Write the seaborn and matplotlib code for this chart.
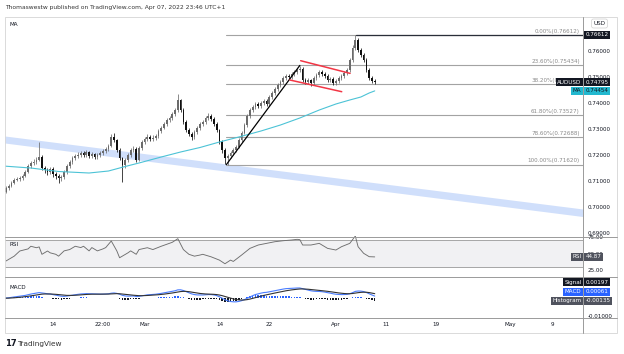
import numpy as np
import pandas as pd
import matplotlib
matplotlib.use("Agg")
import matplotlib.pyplot as plt
import matplotlib.transforms as mtrans
from matplotlib.lines import Line2D
from matplotlib.patches import Rectangle
import seaborn as sns

# ---- AUDUSD, 3 candles per trading day ----
start_day = "2022-02-04"
candles_per_day = 3
first_open = 0.7050

close = [0.7058, 0.7072, 0.7080, 0.7091, 0.7103, 0.7107, 0.7110, 0.7118, 0.7133, 0.7157,
         0.7168, 0.7172, 0.7180, 0.7191, 0.7149, 0.7141, 0.7133, 0.7145, 0.7126, 0.7118,
         0.7110, 0.7114, 0.7133, 0.7157, 0.7172, 0.7187, 0.7195, 0.7199, 0.7207, 0.7199,
         0.7210, 0.7195, 0.7203, 0.7191, 0.7199, 0.7207, 0.7214, 0.7222, 0.7234, 0.7268,
         0.7257, 0.7218, 0.7187, 0.7160, 0.7180, 0.7199, 0.7218, 0.7222, 0.7180, 0.7226,
         0.7249, 0.7261, 0.7268, 0.7261, 0.7265, 0.7272, 0.7291, 0.7303, 0.7318, 0.7333,
         0.7341, 0.7357, 0.7372, 0.7410, 0.7372, 0.7326, 0.7295, 0.7280, 0.7268, 0.7287,
         0.7303, 0.7318, 0.7326, 0.7341, 0.7349, 0.7338, 0.7318, 0.7295, 0.7249, 0.7218,
         0.7187, 0.7195, 0.7207, 0.7218, 0.7230, 0.7257, 0.7284, 0.7314, 0.7349, 0.7372,
         0.7384, 0.7395, 0.7387, 0.7399, 0.7407, 0.7395, 0.7422, 0.7437, 0.7453, 0.7468,
         0.7480, 0.7495, 0.7503, 0.7499, 0.7510, 0.7518, 0.7526, 0.7530, 0.7487, 0.7480,
         0.7487, 0.7476, 0.7495, 0.7507, 0.7518, 0.7510, 0.7503, 0.7487, 0.7491, 0.7476,
         0.7484, 0.7495, 0.7503, 0.7514, 0.7526, 0.7564, 0.7610, 0.7641, 0.7603, 0.7584,
         0.7564, 0.7526, 0.7495, 0.7484, 0.74795]
high = [0.7066, 0.7079, 0.7088, 0.7098, 0.7110, 0.7116, 0.7119, 0.7126, 0.7140, 0.7165,
        0.7176, 0.7182, 0.7190, 0.7249, 0.7198, 0.7158, 0.7150, 0.7153, 0.7151, 0.7134,
        0.7125, 0.7122, 0.7140, 0.7163, 0.7180, 0.7195, 0.7204, 0.7210, 0.7216, 0.7214,
        0.7219, 0.7216, 0.7212, 0.7208, 0.7207, 0.7215, 0.7222, 0.7230, 0.7242, 0.7280,
        0.7282, 0.7262, 0.7224, 0.7192, 0.7188, 0.7207, 0.7226, 0.7233, 0.7228, 0.7234,
        0.7257, 0.7270, 0.7278, 0.7276, 0.7274, 0.7280, 0.7299, 0.7311, 0.7326, 0.7341,
        0.7350, 0.7365, 0.7381, 0.7434, 0.7416, 0.7378, 0.7332, 0.7302, 0.7286, 0.7294,
        0.7310, 0.7326, 0.7335, 0.7349, 0.7360, 0.7356, 0.7345, 0.7324, 0.7300, 0.7255,
        0.7224, 0.7203, 0.7215, 0.7226, 0.7238, 0.7265, 0.7292, 0.7322, 0.7357, 0.7380,
        0.7393, 0.7404, 0.7402, 0.7407, 0.7416, 0.7413, 0.7430, 0.7445, 0.7461, 0.7476,
        0.7489, 0.7503, 0.7512, 0.7511, 0.7518, 0.7527, 0.7535, 0.7541, 0.7536, 0.7494,
        0.7496, 0.7493, 0.7503, 0.7515, 0.7527, 0.7525, 0.7517, 0.7509, 0.7499, 0.7497,
        0.7492, 0.7503, 0.7511, 0.7522, 0.7535, 0.7573, 0.7620, 0.76612, 0.7648, 0.7611,
        0.7592, 0.7570, 0.7532, 0.7502, 0.7490]
low = [0.7044, 0.7052, 0.7066, 0.7075, 0.7086, 0.7097, 0.7100, 0.7104, 0.7113, 0.7128,
       0.7150, 0.7160, 0.7165, 0.7174, 0.7140, 0.7130, 0.7122, 0.7125, 0.7115, 0.7106,
       0.7093, 0.7098, 0.7108, 0.7127, 0.7150, 0.7166, 0.7180, 0.7188, 0.7192, 0.7190,
       0.7192, 0.7186, 0.7188, 0.7182, 0.7184, 0.7193, 0.7200, 0.7208, 0.7216, 0.7228,
       0.7248, 0.7210, 0.7178, 0.7095, 0.7150, 0.7173, 0.7192, 0.7210, 0.7172, 0.7175,
       0.7220, 0.7242, 0.7254, 0.7252, 0.7254, 0.7258, 0.7266, 0.7285, 0.7297, 0.7311,
       0.7326, 0.7334, 0.7350, 0.7366, 0.7364, 0.7318, 0.7287, 0.7272, 0.7255, 0.7261,
       0.7280, 0.7296, 0.7310, 0.7319, 0.7334, 0.7330, 0.7310, 0.7287, 0.7240, 0.7208,
       0.7165, 0.7162, 0.7188, 0.7200, 0.7211, 0.7224, 0.7250, 0.7278, 0.7308, 0.7342,
       0.7365, 0.7377, 0.7379, 0.7380, 0.7392, 0.7387, 0.7389, 0.7415, 0.7430, 0.7446,
       0.7461, 0.7473, 0.7488, 0.7490, 0.7492, 0.7503, 0.7511, 0.7519, 0.7478, 0.7470,
       0.7472, 0.7465, 0.7469, 0.7488, 0.7500, 0.7502, 0.7495, 0.7479, 0.7480, 0.7468,
       0.7469, 0.7477, 0.7488, 0.7496, 0.7507, 0.7519, 0.7557, 0.7602, 0.7595, 0.7575,
       0.7555, 0.7518, 0.7486, 0.7476, 0.7472]

# moving average (cyan line), read at a few candles
ma_idx = [0, 10, 20, 31, 38, 44, 49, 57, 64, 71, 78, 85, 93, 100, 107, 114, 120, 125, 129, 132, 134]
ma_val = [0.71565, 0.71488, 0.71354, 0.71296, 0.71373, 0.71546, 0.71681, 0.71911, 0.72104, 0.72277,
          0.72488, 0.72681, 0.72912, 0.73142, 0.73412, 0.73719, 0.73950, 0.74104, 0.74219, 0.74373,
          0.74454]

# RSI line, read at candles
rsi_idx = [1, 4, 6, 9, 10, 12, 13, 14, 16, 17, 19, 20, 22, 24, 26, 28, 29, 31, 32, 34, 36, 37,
           39, 41, 42, 45, 46, 48, 49, 52, 54, 57, 59, 61, 63, 65, 67, 69, 71, 72, 75, 78, 80,
           82, 83, 86, 89, 92, 95, 98, 101, 104, 106, 107, 108, 111, 114, 117, 120, 122, 125,
           127, 128, 130, 132, 134]
rsi_val = [38.6, 46, 53.8, 57, 61, 58.8, 60, 48.8, 53.8, 51, 48.8, 46, 54, 56, 61, 59, 61, 54,
           59, 54, 57, 59, 69, 54, 43.6, 51, 54, 48.8, 56, 58.8, 56, 61, 64, 67, 72.5, 56, 48.8,
           46, 47.7, 48.8, 45, 40, 34.5, 40, 38, 47.7, 57.8, 62.9, 65.4, 67.9, 69.4, 70.5, 71.5,
           71, 62.9, 62.9, 65.4, 57.8, 55.3, 60.3, 65.4, 76.5, 60.3, 50.3, 45.2, 44.87]

# fibonacci retracement and drawings
fib_high = 0.76612
fib_low = 0.7162
fib_ratios = [0.0, 0.236, 0.382, 0.618, 0.786, 1.0]
fib_start = 80.5
trend_idx = [80.5, 107]
trend_px = [0.7162, 0.75434]
flag_top_idx = [107.3, 125.1]
flag_top_px = [0.75615, 0.75128]
flag_bot_idx = [103.4, 122.1]
flag_bot_px = [0.74873, 0.74423]
peak_idx = 127.3
band_idx = [0.6, 209.2]
band_top = [0.7272, 0.6991]
band_bot = [0.7245, 0.6962]

tick_dates = ["2022-02-14", "2022-02-21", "2022-03-01", "2022-03-14", "2022-03-22",
              "2022-04-01", "2022-04-11", "2022-04-19", "2022-05-02", "2022-05-09"]
tick_hours = [0, 22, 0, 0, 0, 0, 0, 0, 0, 0]
tick_labels = ["14", "22:00", "Mar", "14", "22", "Apr", "11", "19", "May", "9"]
price_ticks = [0.69, 0.70, 0.71, 0.72, 0.73, 0.74, 0.75, 0.76]

# ---- figure ----
sns.set_theme(style="white")
plt.rcParams["font.family"] = ["DejaVu Sans"]
W, H = 624, 354
fig = plt.figure(figsize=(W / 100, H / 100), dpi=100)
fig.patch.set_facecolor("white")

TXT = "#131722"
FS = 4.1


def px_axes(x0, y0, x1, y1):
    a = fig.add_axes([x0 / W, 1 - y1 / H, (x1 - x0) / W, (y1 - y0) / H])
    a.set_facecolor("none")
    for s in a.spines.values():
        s.set_visible(False)
    return a


def hline_px(y, x0, x1, color="#9a9a9a", lw=0.7):
    fig.add_artist(Line2D([x0 / W, x1 / W], [1 - y / H, 1 - y / H], transform=fig.transFigure,
                          color=color, lw=lw))


def vline_px(x, y0, y1, color="#9a9a9a", lw=0.7):
    fig.add_artist(Line2D([x / W, x / W], [1 - y0 / H, 1 - y1 / H], transform=fig.transFigure,
                          color=color, lw=lw))


ax = px_axes(5, 17, 583, 236.5)
ax_rsi = px_axes(5, 236.5, 583, 277)
ax_macd = px_axes(5, 277, 583, 318)
xlim = (0.68, 209.1)
for a in (ax, ax_rsi, ax_macd):
    a.set_xlim(*xlim)
    a.set_xticks([])
    a.yaxis.tick_right()
    a.tick_params(axis="y", length=0, pad=3.6, labelsize=FS, labelcolor=TXT)

# frame and separators
fig.add_artist(Rectangle((5 / W, 1 - 333 / H), 612 / W, 316 / H, transform=fig.transFigure,
                         fill=False, ec="#d5d5d5", lw=0.6))
for yy in (236.5, 277, 318):
    hline_px(yy, 5, 617)
vline_px(583, 17, 333)

# ---- main pane ----
k = np.arange(len(close))
c = np.array(close)
o = np.r_[first_open, c[:-1]]
hi = np.array(high)
lo = np.array(low)
up = c >= o

ax.fill_between(band_idx, band_bot, band_top, color="#d0dffb", lw=0, zorder=1)

col = np.where(up, "#6b6b6b", "#101010")
ax.vlines(k, lo, hi, colors=col, lw=0.55, zorder=3)
body = np.maximum(np.abs(c - o), 0.00008)
ax.bar(k, body, bottom=np.minimum(o, c), width=0.62, color=col, lw=0, zorder=4)

sns.lineplot(x=ma_idx, y=ma_val, ax=ax, color="#4cc3d6", lw=0.8, zorder=5, legend=False)

fib_px = [fib_high - r * (fib_high - fib_low) for r in fib_ratios]
for r, p in zip(fib_ratios, fib_px):
    ax.plot([fib_start, xlim[1]], [p, p], color="#a3a3a3", lw=0.8, zorder=2)
    ax.annotate(f"{r * 100:.2f}%({p:.5f})", xy=(0.9945, p),
                xycoords=mtrans.blended_transform_factory(ax.transAxes, ax.transData),
                xytext=(0, 0.8), textcoords="offset points", ha="right", va="bottom",
                fontsize=FS, color="#8a8a8a", zorder=6)
ax.plot([peak_idx, xlim[1]], [fib_high, fib_high], color="#2a2e39", lw=0.9, zorder=6)
ax.plot(trend_idx, trend_px, color="black", lw=0.9, zorder=6)
ax.plot(flag_top_idx, flag_top_px, color="#f23645", lw=1.1, zorder=6)
ax.plot(flag_bot_idx, flag_bot_px, color="#f23645", lw=1.1, zorder=6)

ax.set_ylim(0.68854, 0.77296)
ax.set_yticks(price_ticks)
ax.set_yticklabels([f"{v:.5f}" for v in price_ticks])
ax.set_ylabel("")
ax.text(0.007, 0.968, "MA", transform=ax.transAxes, fontsize=FS, color=TXT, va="center")

bt = mtrans.blended_transform_factory(ax.transAxes, ax.transData)


def badge(a, x, y, s, fc, tc, ha, tr):
    a.text(x, y, s, transform=tr, ha=ha, va="center", fontsize=FS, color=tc, zorder=20,
           clip_on=False, bbox=dict(boxstyle="square,pad=0.28", fc=fc, ec="none"))


right_x = 1.0 + 2.4 / 578
left_x = 1.0 - 1.5 / 578
badge(ax, right_x, fib_high, f"{fib_high:.5f}", "#131722", "white", "left", bt)
badge(ax, right_x, close[-1], f"{close[-1]:.5f}", "#131722", "white", "left", bt)
badge(ax, left_x, close[-1], "AUDUSD", "#131722", "white", "right", bt)
badge(ax, right_x, ma_val[-1], f"{ma_val[-1]:.5f}", "#22b8cf", "#131722", "left", bt)
badge(ax, left_x, ma_val[-1], "MA", "#22b8cf", "#131722", "right", bt)

# ---- RSI pane ----
ax_rsi.axhspan(30, 70, color="#f1f1f3", lw=0, zorder=0)
ax_rsi.axhline(70, color="#a6a6a6", lw=0.7, zorder=1)
ax_rsi.axhline(30, color="#a6a6a6", lw=0.7, zorder=1)
sns.lineplot(x=rsi_idx, y=rsi_val, ax=ax_rsi, color="#6e6e6e", lw=0.65, legend=False, zorder=3)
ax_rsi.set_ylim(14.4, 75.8)
ax_rsi.set_yticks([25, 50, 75])
ax_rsi.set_yticklabels(["25.00", "50.00", "75.00"])
ax_rsi.set_ylabel("")
ax_rsi.text(0.007, 0.80, "RSI", transform=ax_rsi.transAxes, fontsize=FS, color=TXT, va="center")
bt_rsi = mtrans.blended_transform_factory(ax_rsi.transAxes, ax_rsi.transData)
badge(ax_rsi, right_x, rsi_val[-1], f"{rsi_val[-1]:.2f}", "#50535e", "white", "left", bt_rsi)
badge(ax_rsi, left_x, rsi_val[-1], "RSI", "#50535e", "white", "right", bt_rsi)

# ---- MACD pane ----
cs = pd.Series(close)
macd = cs.ewm(span=12, adjust=False).mean() - cs.ewm(span=26, adjust=False).mean()
signal = macd.ewm(span=9, adjust=False).mean()
hist = macd - signal
ax_macd.bar(k, hist, width=0.55, color=np.where(hist >= 0, "#2962ff", "#131722"), lw=0, zorder=2)
sns.lineplot(x=k, y=macd, ax=ax_macd, color="#4a7dff", lw=0.8, legend=False, zorder=3)
sns.lineplot(x=k, y=signal, ax=ax_macd, color="#333333", lw=0.8, legend=False, zorder=4)
ax_macd.set_ylim(-0.01083, 0.01167)
ax_macd.set_yticks([-0.01])
ax_macd.set_yticklabels(["-0.01000"])
ax_macd.set_ylabel("")
ax_macd.text(0.007, 0.75, "MACD", transform=ax_macd.transAxes, fontsize=FS, color=TXT, va="center")
ta = ax_macd.transAxes
badge(ax_macd, right_x, 0.872, "0.00197", "#131722", "white", "left", ta)
badge(ax_macd, left_x, 0.872, "Signal", "#131722", "white", "right", ta)
badge(ax_macd, right_x, 0.643, "0.00061", "#2962ff", "white", "left", ta)
badge(ax_macd, left_x, 0.643, "MACD", "#2962ff", "white", "right", ta)
badge(ax_macd, right_x, 0.423, "-0.00135", "#50535e", "white", "left", ta)
badge(ax_macd, left_x, 0.423, "Histogram", "#50535e", "white", "right", ta)

# date axis
tick_pos = [candles_per_day * np.busday_count(start_day, d) + h / 8
            for d, h in zip(tick_dates, tick_hours)]
ax_macd.set_xticks(tick_pos)
ax_macd.set_xticklabels(tick_labels)
ax_macd.tick_params(axis="x", length=0, pad=3.2, labelsize=FS, labelcolor=TXT)
ax_macd.set_xlabel("")

# header, currency box and logo
fig.text(5 / W, 1 - 7.5 / H, "Thomaswestw published on TradingView.com, Apr 07, 2022 23:46 UTC+1",
         fontsize=4.3, color="#333333", va="center")
fig.text(599.5 / W, 1 - 23.5 / H, "USD", fontsize=FS, color=TXT, ha="center", va="center",
         bbox=dict(boxstyle="round,pad=0.35", fc="white", ec="#d0d0d0", lw=0.5))
fig.text(5.5 / W, 1 - 344 / H, "17", fontsize=6, fontweight="bold", color="#131722", va="center")
fig.text(17 / W, 1 - 344 / H, "TradingView", fontsize=5.3, color="#333333", va="center")

fig.savefig("out.png", dpi=100, facecolor="white")
